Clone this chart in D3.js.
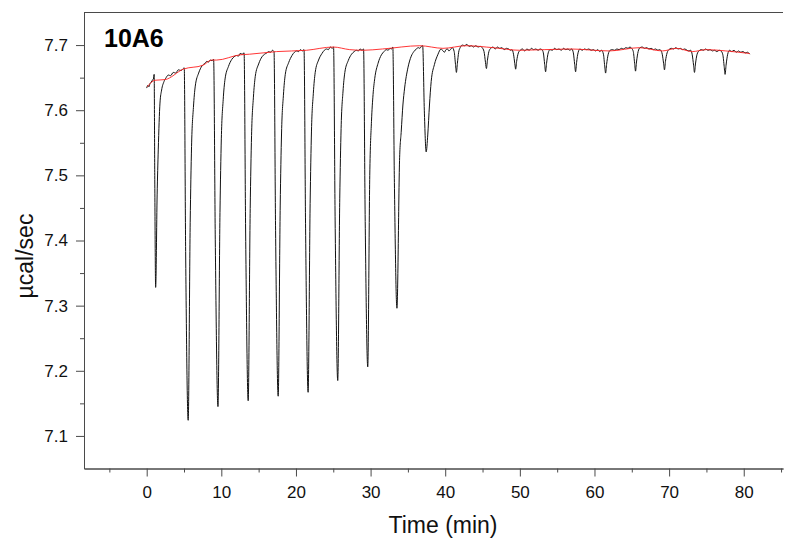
<!DOCTYPE html>
<html><head><meta charset="utf-8">
<script src="https://cdn.jsdelivr.net/npm/d3@7"></script>
<style>body{margin:0;background:#fff}svg{display:block}</style>
</head><body><svg id="c" width="795" height="542"></svg>
<script>
// ---------- data ----------
const title = "10A6";
const xLabel = "Time (min)";
const yLabel = "µcal/sec";
const xMajorTicks = [0, 10, 20, 30, 40, 50, 60, 70, 80];
const xMinorTicks = [-5, 5, 15, 25, 35, 45, 55, 65, 75, 85];
const yMajorTicks = [7.1, 7.2, 7.3, 7.4, 7.5, 7.6, 7.7];
const yMinorTicks = [7.15, 7.25, 7.35, 7.45, 7.55, 7.65];
const xDomain = [-8.4, 85.26];
const yDomain = [7.05, 7.75];

// raw power trace [time (min), µcal/sec]
const trace = [
[0.0,7.634],[0.15,7.638],[0.3,7.636],[0.45,7.641],[0.6,7.643],[0.75,7.646],[0.9,7.648],[1.0,7.655],
[1.08,7.50],[1.2,7.328],[1.4,7.47],[1.55,7.539],[1.78,7.611],[2.0,7.631],[2.32,7.644],[2.6,7.650],[2.9,7.654],[3.2,7.653],[3.56,7.658],[3.9,7.657],[4.23,7.662],[4.6,7.661],[4.9,7.664],[5.03,7.665],
[5.22,7.383],[5.56,7.124],[5.83,7.428],[6.01,7.544],[6.26,7.604],[6.51,7.637],[6.96,7.657],[7.41,7.668],[7.8,7.672],[8.06,7.675],[8.3,7.674],[8.5,7.677],[8.75,7.676],[8.97,7.678],
[9.19,7.401],[9.55,7.145],[9.82,7.443],[10.0,7.556],[10.25,7.616],[10.5,7.648],[10.95,7.667],[11.4,7.678],[11.7,7.682],[12.05,7.684],[12.3,7.683],[12.5,7.687],[12.8,7.686],[13.05,7.688],
[13.26,7.410],[13.6,7.154],[13.87,7.449],[14.05,7.561],[14.3,7.620],[14.55,7.652],[15.0,7.671],[15.45,7.682],[15.8,7.686],[16.1,7.688],[16.35,7.690],[16.6,7.689],[16.85,7.692],[17.06,7.690],
[17.27,7.415],[17.62,7.161],[17.89,7.453],[18.07,7.565],[18.32,7.623],[18.57,7.655],[19.02,7.673],[19.47,7.684],[19.8,7.689],[20.1,7.691],[20.35,7.690],[20.6,7.693],[20.85,7.691],[21.08,7.693],
[21.29,7.419],[21.63,7.167],[21.9,7.457],[22.08,7.568],[22.33,7.626],[22.58,7.658],[23.03,7.677],[23.48,7.687],[23.8,7.692],[24.1,7.694],[24.35,7.693],[24.6,7.697],[24.85,7.695],[25.04,7.697],
[25.25,7.430],[25.6,7.185],[25.87,7.465],[26.05,7.572],[26.3,7.628],[26.55,7.658],[27.0,7.676],[27.45,7.686],[27.8,7.690],[28.1,7.692],[28.35,7.691],[28.6,7.694],[28.85,7.692],[29.06,7.694],
[29.27,7.440],[29.62,7.206],[29.89,7.500],[30.12,7.583],[30.33,7.624],[30.56,7.649],[31.0,7.672],[31.45,7.685],[31.8,7.690],[32.1,7.693],[32.35,7.692],[32.6,7.695],[32.8,7.694],[32.98,7.697],
[33.19,7.489],[33.53,7.296],[33.89,7.527],[34.11,7.568],[34.33,7.608],[34.56,7.634],[35.0,7.665],[35.45,7.683],[35.8,7.690],[36.13,7.694],[36.4,7.696],[36.6,7.695],[36.8,7.698],[36.98,7.699],
[37.2,7.600],[37.45,7.536],[37.66,7.562],[37.89,7.608],[38.12,7.644],[38.55,7.670],[39.0,7.685],[39.45,7.694],[39.7,7.691],[39.9,7.689],[40.1,7.693],[40.3,7.694],[40.5,7.691],[40.7,7.693],[40.95,7.696],
[41.2,7.690],[41.38,7.670],[41.5,7.658],[41.63,7.672],[41.8,7.689],[42.0,7.696],[42.3,7.700],[42.6,7.699],[42.9,7.701],[43.2,7.698],[43.5,7.699],[43.8,7.697],[44.1,7.699],[44.4,7.697],[44.7,7.698],[44.95,7.696],
[45.2,7.690],[45.4,7.673],[45.52,7.664],[45.65,7.676],[45.85,7.690],[46.1,7.695],[46.4,7.697],[46.7,7.694],[47.0,7.697],[47.3,7.695],[47.6,7.696],[47.9,7.693],[48.2,7.695],[48.5,7.694],[48.75,7.692],[48.95,7.693],
[49.15,7.686],[49.32,7.672],[49.44,7.663],[49.57,7.675],[49.8,7.688],[50.05,7.692],[50.35,7.694],[50.65,7.691],[50.95,7.694],[51.25,7.692],[51.55,7.695],[51.85,7.693],[52.15,7.694],[52.45,7.692],[52.7,7.694],[52.95,7.693],
[53.15,7.688],[53.33,7.670],[53.45,7.659],[53.58,7.672],[53.8,7.688],[54.05,7.693],[54.35,7.692],[54.65,7.695],[54.95,7.693],[55.25,7.694],[55.55,7.692],[55.85,7.695],[56.15,7.693],[56.45,7.694],[56.7,7.692],[56.95,7.694],
[57.17,7.688],[57.35,7.670],[57.47,7.659],[57.6,7.673],[57.82,7.689],[58.05,7.694],[58.35,7.692],[58.65,7.694],[58.95,7.693],[59.25,7.694],[59.55,7.692],[59.85,7.693],[60.15,7.691],[60.45,7.693],[60.7,7.690],[60.95,7.692],
[61.2,7.686],[61.37,7.668],[61.49,7.657],[61.62,7.670],[61.84,7.686],[62.1,7.692],[62.4,7.693],[62.7,7.692],[63.0,7.694],[63.3,7.693],[63.6,7.695],[63.9,7.694],[64.2,7.696],[64.5,7.695],[64.75,7.697],[64.98,7.695],
[65.2,7.690],[65.38,7.672],[65.5,7.660],[65.63,7.674],[65.85,7.690],[66.1,7.696],[66.4,7.697],[66.7,7.695],[67.0,7.696],[67.3,7.694],[67.6,7.695],[67.9,7.693],[68.2,7.694],[68.5,7.692],[68.7,7.693],[68.88,7.692],
[69.08,7.686],[69.26,7.672],[69.38,7.662],[69.51,7.675],[69.73,7.688],[69.98,7.693],[70.3,7.695],[70.6,7.694],[70.9,7.696],[71.2,7.694],[71.5,7.695],[71.8,7.693],[72.1,7.694],[72.4,7.692],[72.65,7.691],[72.9,7.692],
[73.1,7.685],[73.28,7.669],[73.4,7.658],[73.53,7.671],[73.75,7.686],[74.0,7.691],[74.3,7.693],[74.6,7.692],[74.9,7.694],[75.2,7.692],[75.5,7.693],[75.8,7.691],[76.1,7.692],[76.4,7.690],[76.7,7.692],[76.95,7.691],
[77.2,7.685],[77.38,7.667],[77.5,7.655],[77.63,7.669],[77.85,7.686],[78.1,7.692],[78.4,7.690],[78.7,7.692],[79.0,7.689],[79.3,7.691],[79.6,7.689],[79.9,7.690],[80.2,7.688],[80.5,7.689],[80.8,7.686]
];

// fitted baseline (red)
const baselineTime  = [0.08, 1.11, 2.45, 4.9, 7.54, 8.7, 9.37, 12.5, 13.8, 17.4, 21.4, 25.0, 27.2, 29.0, 31.6, 36.6, 39.7, 42.8, 46.4, 50.0, 56.7, 62.0, 66.0, 69.1, 71.0, 73.1, 75.0, 77.6, 80.8];
const baselineValue = [7.636, 7.646, 7.647, 7.663, 7.669, 7.677, 7.677, 7.685, 7.686, 7.690, 7.692, 7.697, 7.693, 7.692, 7.694, 7.699, 7.695, 7.699, 7.696, 7.692, 7.694, 7.691, 7.696, 7.691, 7.695, 7.690, 7.693, 7.691, 7.687];

// ---------- drawing ----------
const L = 84, R = 783, T = 12.5, B = 468.5;
const svg = d3.select("#c");
const x = d3.scaleLinear().domain(xDomain).range([L, R]);
const y = d3.scaleLinear().domain(yDomain).range([B, T]);
const axisColor = "#4a4a4a";
const font = "Arial, 'Liberation Sans', sans-serif";

// frame top line
svg.append("line").attr("x1", L).attr("x2", R).attr("y1", T).attr("y2", T)
  .attr("stroke", axisColor).attr("stroke-width", 1);

function styleAxis(g){
  g.select(".domain").attr("stroke", axisColor).attr("stroke-width", 1);
  g.selectAll(".tick line").attr("stroke", axisColor).attr("stroke-width", 1);
  g.selectAll(".tick text").attr("fill", "#111").style("font-family", font).style("font-size", "17px");
}

const gx = svg.append("g").attr("transform", `translate(0,${B})`)
  .call(d3.axisBottom(x).tickValues(xMajorTicks).tickSize(8).tickSizeOuter(0).tickPadding(9).tickFormat(d3.format("d")));
styleAxis(gx);
const gxm = svg.append("g").attr("transform", `translate(0,${B})`)
  .call(d3.axisBottom(x).tickValues(xMinorTicks).tickSize(4).tickSizeOuter(0).tickFormat(""));
styleAxis(gxm);

const gy = svg.append("g").attr("transform", `translate(${L},0)`)
  .call(d3.axisLeft(y).tickValues(yMajorTicks).tickSize(8).tickSizeOuter(0).tickPadding(8).tickFormat(d3.format(".1f")));
styleAxis(gy);
const gym = svg.append("g").attr("transform", `translate(${L},0)`)
  .call(d3.axisLeft(y).tickValues(yMinorTicks).tickSize(4).tickSizeOuter(0).tickFormat(""));
styleAxis(gym);

// trace
const line = d3.line().x(d => x(d[0])).y(d => y(d[1])).curveMonotoneX;
svg.append("path").datum(trace)
  .attr("d", d3.line().x(d => x(d[0])).y(d => y(d[1])).curve(d3.curveMonotoneX))
  .attr("fill", "none").attr("stroke", "#111").attr("stroke-width", 1);

// baseline
const base = baselineTime.map((t, i) => [t, baselineValue[i]]);
svg.append("path").datum(base)
  .attr("d", d3.line().x(d => x(d[0])).y(d => y(d[1])).curve(d3.curveMonotoneX))
  .attr("fill", "none").attr("stroke", "#ff2020").attr("stroke-width", 1).attr("opacity", 0.9);

// labels
svg.append("text").attr("x", 104).attr("y", 47).text(title)
  .style("font-family", font).style("font-size", "25px").style("font-weight", "bold").attr("fill", "#000");
svg.append("text").attr("x", 443).attr("y", 533).attr("text-anchor", "middle").text(xLabel)
  .style("font-family", font).style("font-size", "23px").attr("fill", "#111");
svg.append("text").attr("transform", "translate(33,256) rotate(-90)").attr("text-anchor", "middle").text(yLabel)
  .style("font-family", font).style("font-size", "23px").attr("fill", "#111");
</script></body></html>
